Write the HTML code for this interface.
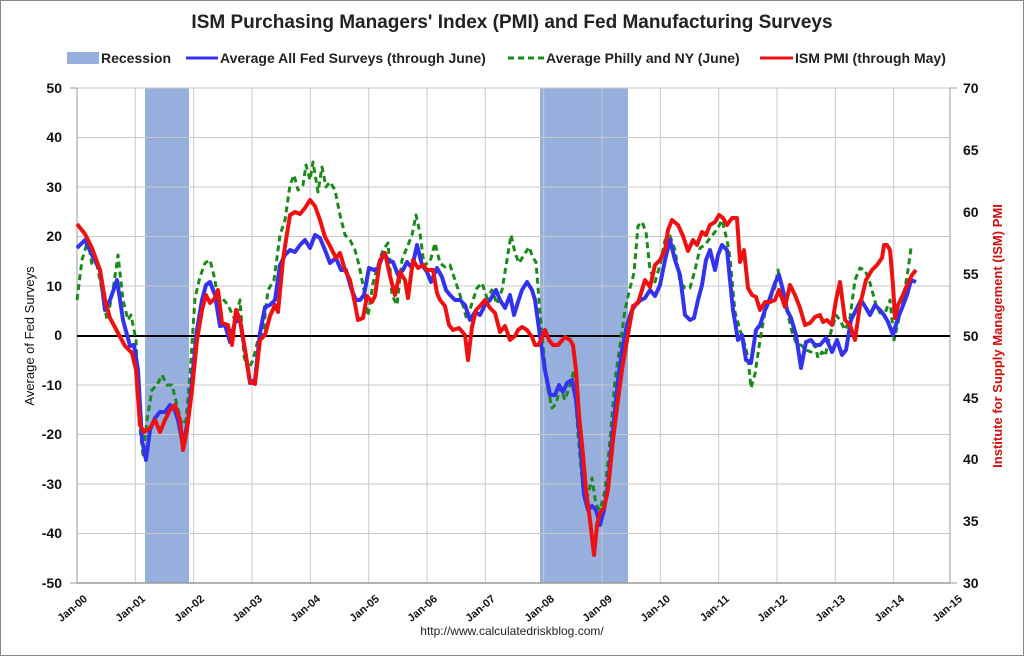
<!DOCTYPE html>
<html><head><meta charset="utf-8"><style>
html,body{margin:0;padding:0;background:#fff;}
svg{display:block;font-family:"Liberation Sans",sans-serif;}
</style></head><body>
<svg width="1024" height="656" viewBox="0 0 1024 656" xmlns="http://www.w3.org/2000/svg">
<rect x="0.5" y="0.5" width="1023" height="655" fill="#fff" stroke="#888" stroke-width="1"/>
<text x="512" y="28" text-anchor="middle" font-size="19" font-weight="bold" fill="#222">ISM Purchasing Managers' Index (PMI) and Fed Manufacturing Surveys</text>
<!-- legend -->
<rect x="67" y="52" width="32" height="12" fill="#97afdc"/>
<text x="101" y="63" font-size="14" font-weight="bold" fill="#222">Recession</text>
<line x1="186" y1="58" x2="218" y2="58" stroke="#3333ee" stroke-width="3"/>
<text x="220" y="63" font-size="14" font-weight="bold" fill="#222">Average All Fed Surveys (through June)</text>
<line x1="508" y1="58" x2="544" y2="58" stroke="#1b8a1b" stroke-width="3" stroke-dasharray="6,4"/>
<text x="546" y="63" font-size="14" font-weight="bold" fill="#222">Average Philly and NY (June)</text>
<line x1="760" y1="58" x2="793" y2="58" stroke="#ee1111" stroke-width="3"/>
<text x="795" y="63" font-size="14" font-weight="bold" fill="#222">ISM PMI (through May)</text>
<!-- recessions -->
<rect x="145" y="88" width="44" height="495" fill="#97afdc"/>
<rect x="540" y="88" width="88" height="495" fill="#97afdc"/>
<!-- grid -->
<g stroke="#c8c8c8" stroke-width="1">
<line x1="77" y1="88" x2="950" y2="88"/><line x1="77" y1="137.5" x2="950" y2="137.5"/><line x1="77" y1="187" x2="950" y2="187"/><line x1="77" y1="236.5" x2="950" y2="236.5"/><line x1="77" y1="286" x2="950" y2="286"/><line x1="77" y1="385" x2="950" y2="385"/><line x1="77" y1="434.5" x2="950" y2="434.5"/><line x1="77" y1="484" x2="950" y2="484"/><line x1="77" y1="533.5" x2="950" y2="533.5"/>
<line x1="135.3" y1="88" x2="135.3" y2="583"/><line x1="193.7" y1="88" x2="193.7" y2="583"/><line x1="252" y1="88" x2="252" y2="583"/><line x1="310.3" y1="88" x2="310.3" y2="583"/><line x1="368.7" y1="88" x2="368.7" y2="583"/><line x1="427" y1="88" x2="427" y2="583"/><line x1="485.3" y1="88" x2="485.3" y2="583"/><line x1="543.7" y1="88" x2="543.7" y2="583"/><line x1="602" y1="88" x2="602" y2="583"/><line x1="660.3" y1="88" x2="660.3" y2="583"/><line x1="718.7" y1="88" x2="718.7" y2="583"/><line x1="777" y1="88" x2="777" y2="583"/><line x1="835.3" y1="88" x2="835.3" y2="583"/><line x1="893.7" y1="88" x2="893.7" y2="583"/>
</g>
<line x1="77" y1="88" x2="77" y2="583" stroke="#999"/>
<line x1="950" y1="88" x2="950" y2="583" stroke="#999"/>
<line x1="77" y1="583" x2="950" y2="583" stroke="#999" stroke-width="1.5"/>
<line x1="70" y1="88" x2="77" y2="88" stroke="#999"/><line x1="950" y1="88" x2="957" y2="88" stroke="#999"/>
<line x1="70" y1="583" x2="77" y2="583" stroke="#999"/><line x1="950" y1="583" x2="957" y2="583" stroke="#999"/>
<!-- left labels -->
<g font-size="14" font-weight="bold" fill="#111" text-anchor="end">
<text x="62" y="93">50</text><text x="62" y="142">40</text><text x="62" y="192">30</text><text x="62" y="241">20</text><text x="62" y="291">10</text><text x="62" y="340">0</text><text x="62" y="390">-10</text><text x="62" y="439">-20</text><text x="62" y="489">-30</text><text x="62" y="538">-40</text><text x="62" y="588">-50</text>
</g>
<g font-size="14" font-weight="bold" fill="#111">
<text x="963" y="93">70</text><text x="963" y="155">65</text><text x="963" y="217">60</text><text x="963" y="279">55</text><text x="963" y="341">50</text><text x="963" y="403">45</text><text x="963" y="464">40</text><text x="963" y="526">35</text><text x="963" y="588">30</text>
</g>
<text transform="translate(34,336) rotate(-90)" text-anchor="middle" font-size="13" fill="#111">Average of Fed Surveys</text>
<text transform="translate(1002,336) rotate(-90)" text-anchor="middle" font-size="13" font-weight="bold" fill="#cc1111">Institute for Supply Management (ISM) PMI</text>
<!-- x labels -->
<g font-size="11" font-weight="bold" fill="#111" text-anchor="end">
<text transform="translate(88,600) rotate(-40)">Jan-00</text><text transform="translate(146,600) rotate(-40)">Jan-01</text><text transform="translate(205,600) rotate(-40)">Jan-02</text><text transform="translate(263,600) rotate(-40)">Jan-03</text><text transform="translate(321,600) rotate(-40)">Jan-04</text><text transform="translate(380,600) rotate(-40)">Jan-05</text><text transform="translate(438,600) rotate(-40)">Jan-06</text><text transform="translate(496,600) rotate(-40)">Jan-07</text><text transform="translate(555,600) rotate(-40)">Jan-08</text><text transform="translate(613,600) rotate(-40)">Jan-09</text><text transform="translate(671,600) rotate(-40)">Jan-10</text><text transform="translate(730,600) rotate(-40)">Jan-11</text><text transform="translate(788,600) rotate(-40)">Jan-12</text><text transform="translate(846,600) rotate(-40)">Jan-13</text><text transform="translate(905,600) rotate(-40)">Jan-14</text><text transform="translate(963,600) rotate(-40)">Jan-15</text>
</g>
<text x="512" y="635" text-anchor="middle" font-size="12" fill="#222">http://www.calculatedriskblog.com/</text>
<!-- zero line -->
<line x1="77" y1="336" x2="950" y2="336" stroke="#000" stroke-width="2"/>
<!-- green -->
<polyline fill="none" stroke="#1b8a1b" stroke-width="3" stroke-dasharray="6,4" stroke-linejoin="round" points="77,300 82,260 88,240 92,265 97,265 102,290 107,320 113,290 118,255 123,300 128,320 131,315 136,340 139,420 143,455 147,420 152,390 157,385 162,375 167,385 172,385 177,405 182,425 186,420 190,375 195,298 200,277 205,263 210,260 215,280 218,303 222,298 228,305 235,320 240,300 244,356 248,370 253,360 258,340 263,334 268,290 274,280 280,235 285,220 290,185 294,175 298,190 303,185 306,165 310,180 313,162 318,192 322,167 326,187 330,182 335,190 340,215 345,235 350,240 355,250 359,265 364,290 368,316 373,283 378,265 383,250 388,243 392,295 397,305 402,260 408,245 412,235 416,215 420,233 424,265 430,262 435,243 440,263 445,267 450,265 455,280 460,295 467,320 472,303 477,288 482,283 487,298 492,290 497,304 502,290 507,260 511,235 515,253 519,263 524,255 529,247 533,258 536,262 539,300 543,345 547,385 552,408 556,404 560,388 565,400 570,385 574,370 578,435 583,490 588,495 592,478 596,505 600,510 605,490 610,440 615,380 620,345 625,310 630,288 634,273 638,226 642,222 646,232 650,270 655,282 660,265 665,240 670,236 675,250 680,282 685,288 690,288 695,270 700,248 705,245 710,238 715,232 718,228 722,220 727,240 730,258 735,312 740,330 745,345 748,358 751,388 755,374 760,340 765,312 770,300 775,287 778,270 783,293 787,310 792,332 797,345 801,345 806,350 811,352 815,345 818,358 822,352 825,356 830,335 836,315 840,320 845,330 850,318 855,280 860,268 865,270 870,283 876,305 880,313 885,313 890,300 894,340 898,323 903,300 908,270 911,248"/>
<!-- blue -->
<polyline fill="none" stroke="#3333ee" stroke-width="4" stroke-linejoin="round" points="77,248 85,240 92,255 100,270 105,310 110,300 117,280 123,320 130,346 134,345 138,370 142,440 146,460 150,430 155,418 160,412 165,412 170,405 174,408 178,420 183,445 188,420 192,380 197,330 202,300 206,285 210,282 215,295 220,326 225,325 230,342 235,322 240,320 245,350 250,383 255,380 260,333 265,307 270,305 275,300 280,265 285,255 290,250 295,252 300,245 305,240 310,248 315,235 320,238 325,250 330,263 336,258 341,270 346,270 351,288 356,300 360,300 364,295 369,268 374,270 378,268 384,253 388,260 393,262 398,275 403,270 407,262 412,268 417,245 422,265 427,272 431,282 437,268 442,277 446,290 450,295 455,300 460,300 465,305 470,320 475,312 480,315 485,305 490,300 496,290 500,300 505,308 510,295 514,315 518,302 522,290 527,282 532,290 535,300 540,336 545,370 550,395 555,395 559,385 563,392 567,383 572,380 576,400 580,440 584,495 588,510 592,506 596,510 600,525 604,510 608,485 613,430 618,380 622,350 627,325 632,310 637,303 641,300 645,298 650,290 655,296 660,285 665,260 670,240 675,260 680,275 685,315 690,320 694,318 698,300 702,285 706,260 710,250 715,270 718,255 722,245 727,250 733,310 738,340 742,335 746,360 751,363 756,330 760,325 765,310 770,298 775,283 779,275 783,290 787,310 791,318 796,335 801,368 806,342 811,340 815,345 820,345 826,338 832,352 837,340 842,355 846,350 851,320 856,310 861,300 866,308 870,315 875,305 880,310 884,315 888,322 893,335 898,318 902,308 907,295 911,280 916,282"/>
<!-- red -->
<polyline fill="none" stroke="#ee1111" stroke-width="4" stroke-linejoin="round" points="77,224 85,234 92,248 100,270 105,300 110,318 118,333 125,346 132,353 136,370 140,425 144,432 150,428 155,420 160,432 165,420 170,410 175,405 180,420 183,450 187,430 192,390 197,340 202,310 206,295 210,303 215,298 218,290 222,323 228,325 232,345 236,310 240,320 245,350 250,382 255,384 260,340 265,335 270,316 275,305 278,312 283,260 286,240 290,215 295,212 300,214 305,208 310,200 315,206 320,220 325,237 330,246 336,258 340,253 345,270 350,280 355,304 358,320 363,318 367,296 372,302 375,296 380,260 385,253 390,276 395,295 400,272 405,280 408,298 413,260 418,268 423,265 427,270 433,270 437,293 440,300 445,306 449,325 453,330 459,328 465,335 468,360 472,327 476,310 480,306 485,300 490,308 495,313 500,332 505,326 510,340 515,336 518,330 522,327 527,330 532,337 535,345 538,345 541,340 545,330 549,340 553,345 558,345 565,337 570,340 573,345 576,370 579,415 583,455 586,490 590,520 594,555 597,525 600,513 604,508 608,490 613,440 618,400 622,370 627,340 633,306 638,303 645,280 650,287 655,265 660,260 665,250 668,230 672,220 678,225 683,236 688,251 693,240 697,245 702,232 706,235 710,225 715,222 719,215 723,218 727,225 732,218 737,218 740,262 744,250 748,288 752,295 756,297 760,310 765,302 770,302 775,300 779,290 785,307 790,285 795,295 800,308 805,325 810,323 815,317 820,315 823,322 827,320 832,325 836,300 840,282 845,320 850,325 855,340 860,305 866,280 872,270 877,265 882,258 884,245 887,245 890,250 893,285 895,318 898,305 903,295 907,285 912,275 916,270"/>
</svg>
</body></html>
